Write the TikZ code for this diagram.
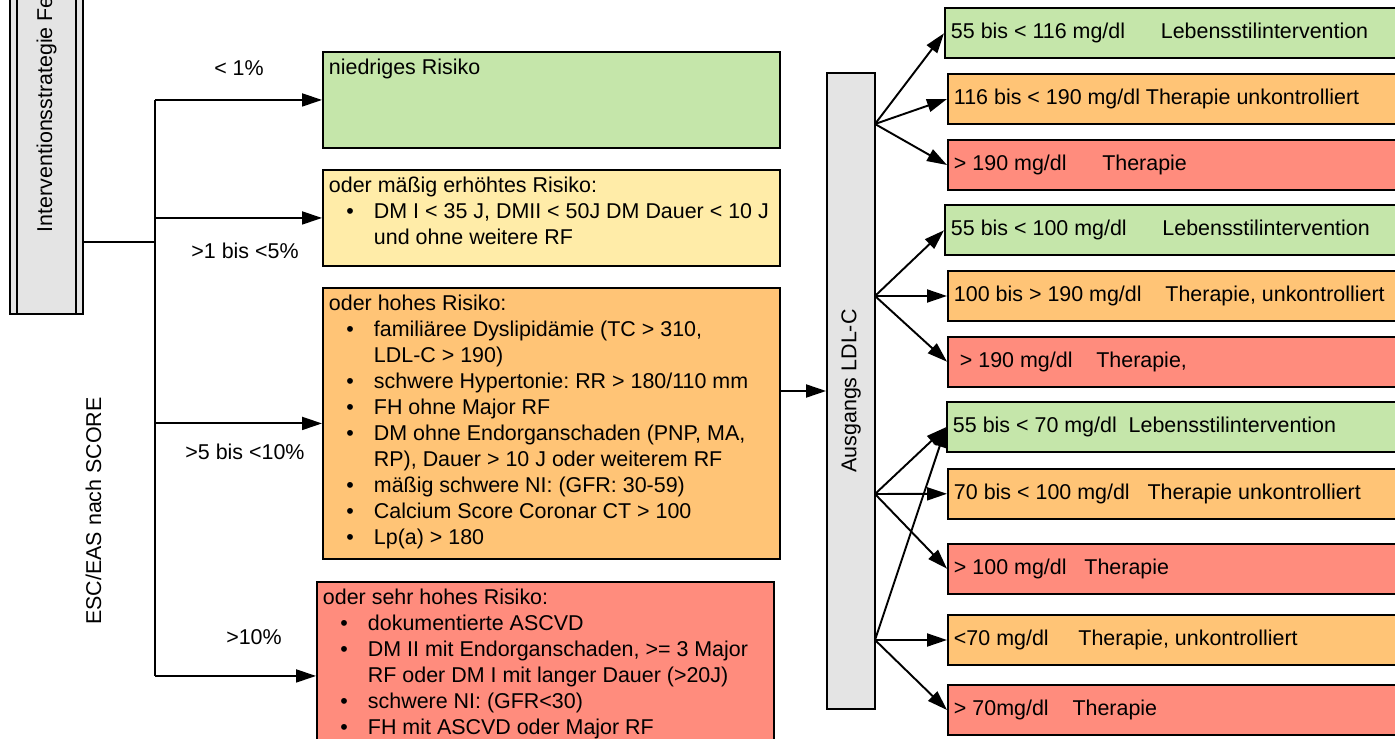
\documentclass[tikz,border=0pt]{standalone}
\usepackage{fontspec}
\setmainfont{Liberation Sans}
\usetikzlibrary{arrows.meta}

\definecolor{riskgreen}{RGB}{197,230,170}
\definecolor{riskyellow}{RGB}{255,236,168}
\definecolor{riskorange}{RGB}{255,196,118}
\definecolor{riskred}{RGB}{255,140,125}
\definecolor{boxgrey}{RGB}{228,228,228}

% top aligned text inside the risk boxes
\newcommand{\risktext}[2]{\makebox[8.9cm][l]{\parbox[t][#1][t]{8.9cm}{\raggedright\setlength{\parskip}{0pt}#2}}}
\newenvironment{risklist}{\begin{list}{\textbullet}{%
    \setlength{\leftmargin}{0.9cm}\setlength{\labelsep}{0.4cm}%
    \setlength{\rightmargin}{-1cm}\setlength{\itemsep}{0pt}%
    \setlength{\parsep}{0pt}\setlength{\topsep}{0pt}\setlength{\partopsep}{0pt}}}%
  {\end{list}}

\begin{document}
\begin{tikzpicture}[x=0.02cm, y=-0.02cm, line width=1.1pt,
    font=\fontsize{12.2}{14.8}\selectfont\frenchspacing,
    riskbox/.style={draw, anchor=north west, inner xsep=0.12cm, inner ysep=0.14cm},
    greybox/.style={draw, fill=boxgrey, inner sep=0},
    target/.style={draw, anchor=west, minimum height=1cm, text width=9.22cm, align=flush left, inner xsep=0.12cm},
    arr/.style={-{Triangle[length=0.4cm, width=0.26cm]}}]
    \useasboundingbox (0,0) rectangle (1395,739);

    % left column
    \node[greybox, minimum width=1.46cm, minimum height=12.3cm, anchor=south] (strat) at (46.5,315) {};
    \draw ([xshift=0.16cm]strat.north west) -- ([xshift=0.16cm]strat.south west);
    \draw ([xshift=-0.16cm]strat.north east) -- ([xshift=-0.16cm]strat.south east);
    \node[rotate=90, anchor=west, inner sep=0] (stratlabel) at (46.5,233) {Interventionsstrategie Fe};
    \node[rotate=90] (score) at (93.5,511) {ESC/EAS nach SCORE};

    % risk groups
    \node[riskbox, fill=riskgreen] (low) at (322,51) {\risktext{1.64cm}{niedriges Risiko}};
    \node[riskbox, fill=riskyellow] (moderate) at (322,169) {\risktext{1.64cm}{oder mäßig erhöhtes Risiko:
        \begin{risklist}
        \item DM I < 35 J, DMII < 50J DM Dauer < 10 J\\ und ohne weitere RF
        \end{risklist}}};
    \node[riskbox, fill=riskorange] (high) at (322,287) {\risktext{5.14cm}{oder hohes Risiko:
        \begin{risklist}
        \item familiäree Dyslipidämie (TC > 310,\\ LDL-C > 190)
        \item schwere Hypertonie: RR > 180/110 mm
        \item FH ohne Major RF
        \item DM ohne Endorganschaden (PNP, MA,\\ RP), Dauer > 10 J oder weiterem RF
        \item mäßig schwere NI: (GFR: 30-59)
        \item Calcium Score Coronar CT > 100
        \item Lp(a) > 180
        \end{risklist}}};
    \node[riskbox, fill=riskred] (veryhigh) at (316,581) {\risktext{3.48cm}{oder sehr hohes Risiko:
        \begin{risklist}
        \item dokumentierte ASCVD
        \item DM II mit Endorganschaden, >= 3 Major\\ RF oder DM I mit langer Dauer (>20J)
        \item schwere NI: (GFR<30)
        \item FH mit ASCVD oder Major RF
        \end{risklist}}};

    \node (pct1) at (239,68) {< 1\%};
    \node (pct2) at (245,251) {>1 bis <5\%};
    \node (pct3) at (245,452) {>5 bis <10\%};
    \node (pct4) at (254,637) {>10\%};

    \coordinate (fork) at (155,242);
    \draw (strat.east |- fork) -- (fork);
    \draw (fork |- low.west) -- (fork |- veryhigh.west);
    \draw[arr] (fork |- low.west) -- (low.west);
    \draw[arr] (fork |- moderate.west) -- (moderate.west);
    \draw[arr] (fork |- high.west) -- (high.west);
    \draw[arr] (fork |- veryhigh.west) -- (veryhigh.west);

    % LDL-C column
    \node[greybox, minimum width=0.96cm, minimum height=12.72cm] (ldl) at (851,391) {\rotatebox{90}{Ausgangs LDL-C}};
    \draw[arr] (high.east |- ldl.west) -- (ldl.west);

    \node[target, fill=riskgreen] (a1) at (944,33.3) {55 bis < 116 mg/dl~~~~~~Lebensstilintervention};
    \node[target, fill=riskorange] (a2) at (947,99) {116 bis < 190 mg/dl Therapie unkontrolliert};
    \node[target, fill=riskred] (a3) at (947,165) {> 190 mg/dl~~~~~~Therapie};
    \node[target, fill=riskgreen] (b1) at (944,230.3) {55 bis < 100 mg/dl~~~~~~Lebensstilintervention};
    \node[target, fill=riskorange] (b2) at (947,296) {100 bis > 190 mg/dl~~~~Therapie, unkontrolliert};
    \node[target, fill=riskred] (b3) at (947,361.7) {~> 190 mg/dl~~~~Therapie,};
    \node[target, fill=riskgreen] (c1) at (946,427.2) {55 bis < 70 mg/dl~~Lebensstilintervention};
    \node[target, fill=riskorange] (c2) at (947,493.8) {70 bis < 100 mg/dl~~~Therapie unkontrolliert};
    \node[target, fill=riskred] (c3) at (947,568.7) {> 100 mg/dl~~~Therapie};
    \node[target, fill=riskorange] (d1) at (947,640) {<70 mg/dl~~~~~Therapie, unkontrolliert};
    \node[target, fill=riskred] (d2) at (947,710) {> 70mg/dl~~~~Therapie};

    \coordinate (srcA) at (875,124);
    \coordinate (srcB) at (875,296);
    \coordinate (srcC) at (875,494);
    \coordinate (srcD) at (875,640);
    \draw[arr] (srcA) -- (a1.west);
    \draw[arr] (srcA) -- (a2.west);
    \draw[arr] (srcA) -- (a3.west);
    \draw[arr] (srcB) -- (b1.west);
    \draw[arr] (srcB) -- (b2.west);
    \draw[arr] (srcB) -- (b3.west);
    \draw[arr] (srcC) -- (c1.west);
    \draw[arr] (srcC) -- (c2.west);
    \draw[arr] (srcC) -- (c3.west);
    \draw[arr] (srcD) -- (c1.west);
    \draw[arr] (srcD) -- (d1.west);
    \draw[arr] (srcD) -- (d2.west);
\end{tikzpicture}
\end{document}
